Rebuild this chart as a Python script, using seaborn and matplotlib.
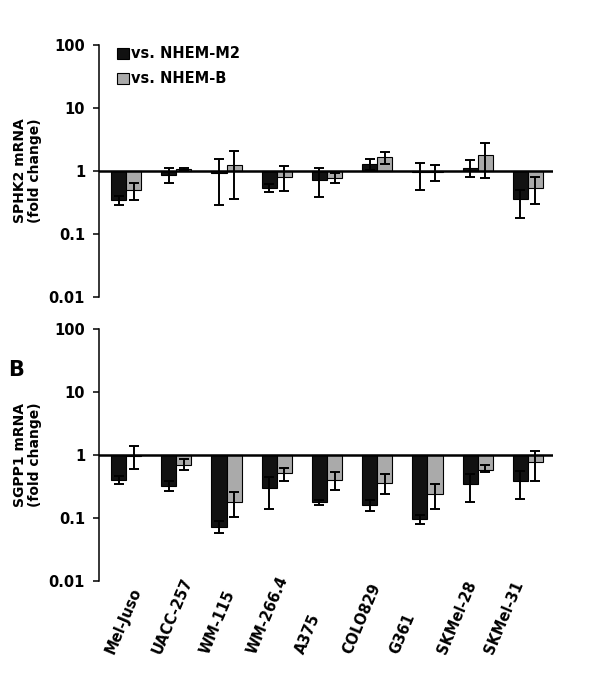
import matplotlib
matplotlib.use("Agg")
import matplotlib.pyplot as plt
import seaborn as sns
import pandas as pd
import numpy as np

# cell lines and comparisons
cells = ["Mel-Juso", "UACC-257", "WM-115", "WM-266.4", "A375",
         "COLO829", "G361", "SKMel-28", "SKMel-31"]
groups = ["vs. NHEM-M2", "vs. NHEM-B"]

# SPHK2 fold change (mean, lower / upper end of error bar)
sphk2_m2 = [0.34, 0.85, 0.94, 0.54, 0.71, 1.29, 0.95, 1.13, 0.36]
sphk2_m2_lo = [0.29, 0.64, 0.29, 0.46, 0.39, 1.05, 0.49, 0.80, 0.18]
sphk2_m2_hi = [0.40, 1.13, 1.57, 0.62, 1.12, 1.56, 1.36, 1.48, 0.50]
sphk2_b = [0.49, 1.08, 1.25, 0.80, 0.77, 1.67, 0.95, 1.78, 0.54]
sphk2_b_lo = [0.35, 1.04, 0.36, 0.48, 0.65, 1.31, 0.68, 0.78, 0.30]
sphk2_b_hi = [0.65, 1.12, 2.09, 1.19, 0.93, 2.01, 1.22, 2.74, 0.80]

# SGPP1 fold change
sgpp1_m2 = [0.40, 0.32, 0.072, 0.30, 0.176, 0.161, 0.095, 0.34, 0.39]
sgpp1_m2_lo = [0.34, 0.27, 0.058, 0.137, 0.16, 0.129, 0.079, 0.18, 0.20]
sgpp1_m2_hi = [0.47, 0.38, 0.09, 0.45, 0.19, 0.19, 0.11, 0.50, 0.55]
sgpp1_b = [0.97, 0.70, 0.18, 0.51, 0.40, 0.36, 0.24, 0.58, 0.76]
sgpp1_b_lo = [0.60, 0.58, 0.104, 0.39, 0.28, 0.24, 0.14, 0.53, 0.39]
sgpp1_b_hi = [1.41, 0.86, 0.26, 0.62, 0.54, 0.50, 0.35, 0.68, 1.17]

ytick_vals = [0.01, 0.1, 1, 10, 100]
ytick_labels = ["0.01", "0.1", "1", "10", "100"]

sns.set_theme(style="ticks")
plt.rcParams["font.family"] = ["DejaVu Sans"]
plt.rcParams["font.weight"] = "bold"
for key in ["text.color", "axes.labelcolor", "xtick.color", "ytick.color"]:
    plt.rcParams[key] = "black"

colors = ["#111111", "#aaaaaa"]


def draw(ax, m2, m2_lo, m2_hi, b, b_lo, b_hi, ylabel, legend):
    df = pd.DataFrame({
        "cell": cells * 2,
        "group": [groups[0]] * len(cells) + [groups[1]] * len(cells),
        "fold": m2 + b,
    })
    # bars start at 1 -> plot log10 of the fold change
    df["logfold"] = np.log10(df["fold"])
    sns.barplot(data=df, x="cell", y="logfold", hue="group", palette=colors,
                width=0.6, edgecolor="black", linewidth=0.8, errorbar=None,
                legend=legend, ax=ax)
    bars = list(ax.containers)
    lows = [m2_lo, b_lo]
    highs = [m2_hi, b_hi]
    means = [m2, b]
    for k, cont in enumerate(bars):
        xs = [p.get_x() + p.get_width() / 2 for p in cont.patches]
        y = np.log10(means[k])
        lo = y - np.log10(lows[k])
        hi = np.log10(highs[k]) - y
        ax.errorbar(xs, y, yerr=[lo, hi], fmt="none", ecolor="black",
                    elinewidth=1.4, capsize=3.3, capthick=1.4, zorder=5)
    ax.axhline(0, color="black", lw=1.8, zorder=6)
    ax.set_ylim(-2, 2)
    ax.set_xlim(-0.54, 8.5)
    ax.set_yticks(np.log10(ytick_vals), ytick_labels)
    ax.tick_params(axis="y", labelsize=10.5, length=4, width=1.1, pad=6,
                   color="black")
    for lab in ax.get_yticklabels():
        lab.set_fontweight("bold")
    sns.despine(ax=ax, bottom=True)
    ax.spines["left"].set_linewidth(1.1)
    ax.spines["left"].set_color("black")
    ax.set_xlabel("")
    ax.set_ylabel(ylabel, fontsize=10, fontweight="bold", linespacing=1.15)
    ax.yaxis.set_label_coords(-0.125, 0.5)


fig = plt.figure(figsize=(5.89, 6.81), dpi=100)
ax1 = fig.add_axes([0.168, 0.564, 0.771, 0.370])
ax2 = fig.add_axes([0.168, 0.147, 0.771, 0.370])

draw(ax1, sphk2_m2, sphk2_m2_lo, sphk2_m2_hi, sphk2_b, sphk2_b_lo,
     sphk2_b_hi, "SPHK2 mRNA\n(fold change)", True)
draw(ax2, sgpp1_m2, sgpp1_m2_lo, sgpp1_m2_hi, sgpp1_b, sgpp1_b_lo,
     sgpp1_b_hi, "SGPP1 mRNA\n(fold change)", False)

# legend
ax1.legend(loc="upper left", bbox_to_anchor=(0.04, 0.995), frameon=False,
           borderaxespad=0, borderpad=0, handlelength=0.8,
           handleheight=0.8, handletextpad=0.15, labelspacing=0.7,
           prop={"size": 10.5, "weight": "bold"})

ax1.set_xticks([])
# category labels, slanted and anchored at their start
label_pos = [-0.33 + 0.945 * i for i in range(len(cells))]
ax2.set_xticks(label_pos, cells)
ax2.tick_params(axis="x", length=0, pad=52)
for lab in ax2.get_xticklabels():
    lab.set_rotation(67)
    lab.set_rotation_mode("anchor")
    lab.set_ha("left")
    lab.set_va("center")
    lab.set_fontsize(10.5)
    lab.set_fontweight("bold")

fig.text(0.014, 1 - 376 / 681, "B", fontsize=15, fontweight="bold",
         va="baseline")

fig.savefig("out.png", dpi=100)
